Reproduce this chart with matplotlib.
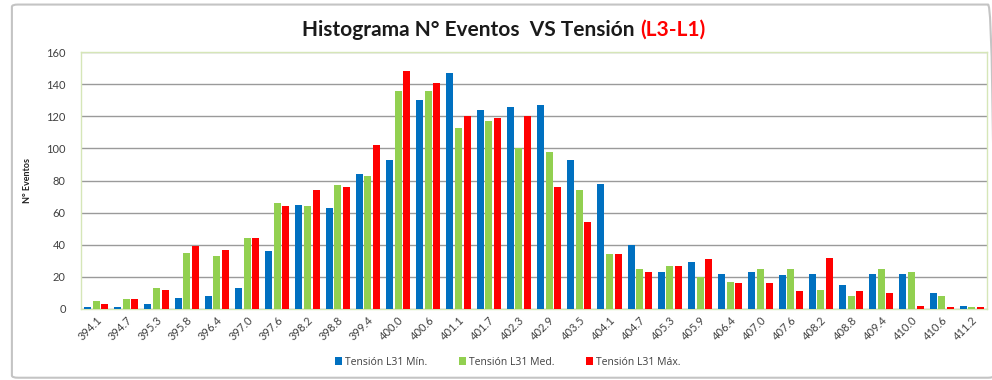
import matplotlib.pyplot as plt
import numpy as np
from matplotlib.patches import FancyBboxPatch

plt.rcParams['font.family'] = ['Lato', 'DejaVu Sans']

tension = ['394.1', '394.7', '395.3', '395.8', '396.4', '397.0', '397.6', '398.2', '398.8', '399.4',
           '400.0', '400.6', '401.1', '401.7', '402.3', '402.9', '403.5', '404.1', '404.7', '405.3',
           '405.9', '406.4', '407.0', '407.6', '408.2', '408.8', '409.4', '410.0', '410.6', '411.2']

ev_min = [1, 1, 3, 7, 8, 13, 36, 65, 63, 84, 93, 130, 147, 124, 126, 127, 93, 78, 40, 23,
          29, 22, 23, 21, 22, 15, 22, 22, 10, 2]
ev_med = [5, 6, 13, 35, 33, 44, 66, 64, 77, 83, 136, 136, 113, 117, 100, 98, 74, 34, 25, 27,
          20, 17, 25, 25, 12, 8, 25, 23, 8, 1]
ev_max = [3, 6, 12, 39, 37, 44, 64, 74, 76, 102, 148, 141, 120, 119, 120, 76, 54, 34, 23, 27,
          31, 16, 16, 11, 32, 11, 10, 2, 1, 1]

series = [('Tensión L31 Mín.', ev_min, '#0070C0'),
          ('Tensión L31 Med.', ev_med, '#92D050'),
          ('Tensión L31 Máx.', ev_max, '#FF0000')]

fig = plt.figure(figsize=(9.92, 3.8), dpi=100)
ax = fig.add_axes([0.0817, 0.187, 0.9133, 0.676])

x = np.arange(len(tension))
w = 0.23
for i, (name, vals, col) in enumerate(series):
    ax.bar(x + (i - 1) * 0.285, vals, width=w, color=col, label=name, zorder=3)

ax.set_xlim(-0.5, len(tension) - 0.5)
ax.set_ylim(0, 160)
ax.set_yticks(range(0, 161, 20))
ax.set_xticks(x)
ax.set_xticklabels(tension, rotation=45, ha='right', rotation_mode='anchor', fontsize=8, color='#404040')
ax.tick_params(axis='y', labelsize=8, labelcolor='#404040', length=0, pad=11)
ax.tick_params(axis='x', length=0, pad=4)

ax.grid(axis='y', color='#9a9a9a', linewidth=1.0, zorder=0)
for s in ax.spines.values():
    s.set_color('#d6e6b8')
    s.set_linewidth(1.0)

ax.set_ylabel('N° Eventos', fontsize=6.5, fontweight='bold', color='#202020', labelpad=10)

# title: black text plus red suffix
fig.text(0.645, 0.922, 'Histograma N° Eventos  VS Tensión ', ha='right', va='center',
         fontsize=15, fontweight='bold', color='#1a1a1a')
fig.text(0.645, 0.922, '(L3-L1)', ha='left', va='center',
         fontsize=15, fontweight='bold', color='#FF0000')

fig.legend(loc='center', bbox_to_anchor=(0.512, 0.047), ncol=3, frameon=False,
           handlelength=0.7, handleheight=0.7, handletextpad=0.3,
           columnspacing=3.0, labelcolor='#404040',
           prop={'family': ['Open Sans', 'DejaVu Sans'], 'size': 7.5})

frame = FancyBboxPatch((0.012, 0.006), 0.99, 0.982, transform=fig.transFigure,
                       boxstyle='round,pad=0,rounding_size=0.006', fill=False,
                       edgecolor='#c4c4c4', linewidth=1.5, zorder=0)
fig.patches.append(frame)

plt.savefig('out.png', dpi=100)
